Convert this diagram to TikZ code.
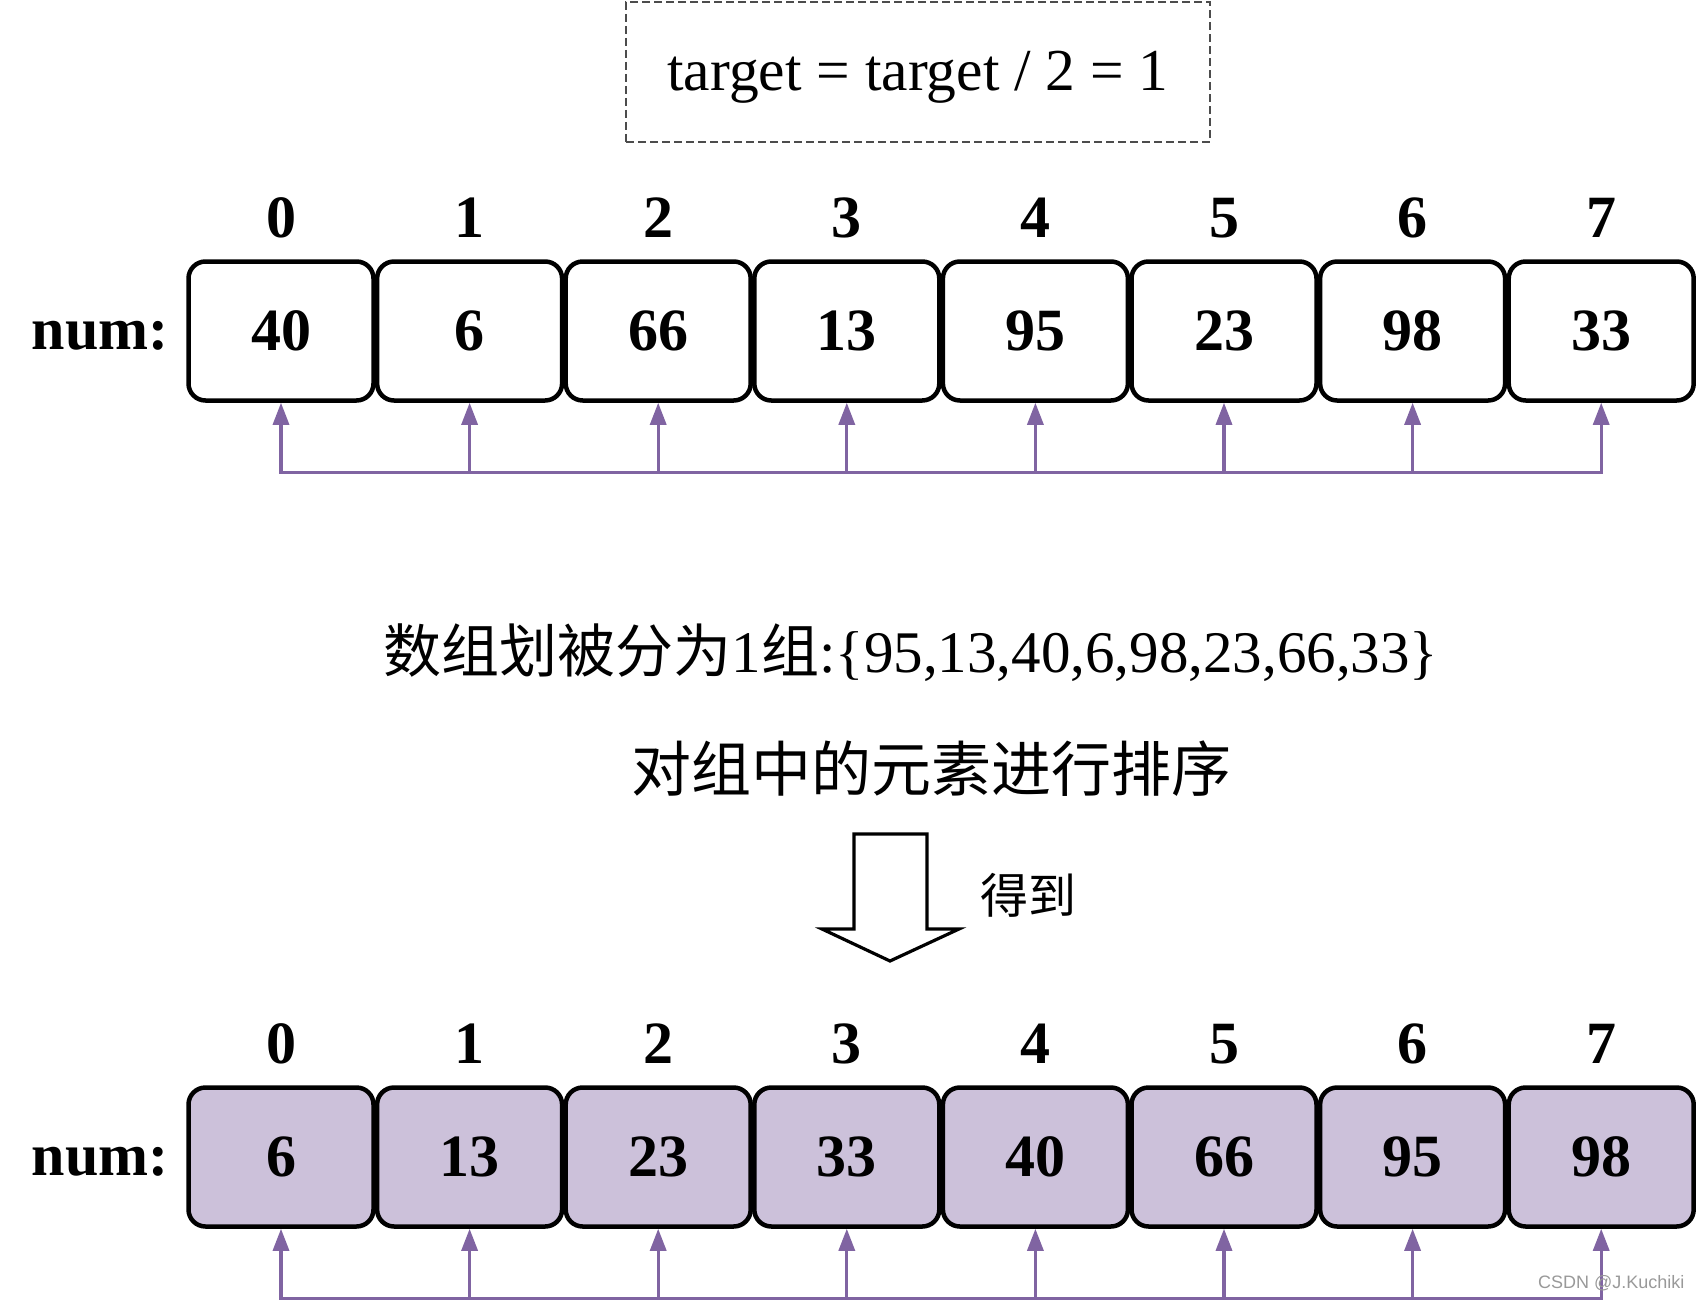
\documentclass[tikz,border=0pt]{standalone}
\usepackage{fontspec}
\setmainfont{Liberation Serif}
\newfontfamily\cjk{Noto Sans CJK SC}
\newfontfamily\wmfont{Liberation Sans}
\usetikzlibrary{arrows.meta}
\definecolor{ptrviolet}{HTML}{8064A2}
\definecolor{cellfill}{HTML}{CCC1DA}
\newcommand\zh[2][62]{{\fontsize{#1}{#1}\selectfont\cjk #2}}
\tikzset{
  cell/.style={draw, line width=4.5pt, rounded corners=17pt, minimum width=185pt,
    minimum height=139pt, inner sep=0pt, font=\fontsize{60}{66}\selectfont\bfseries},
  sorted/.style={cell, fill=cellfill},
  idx/.style={inner sep=0pt, font=\fontsize{60}{66}\selectfont\bfseries},
  ptr/.style={draw=ptrviolet, line width=3.2pt, -{Triangle[length=22pt,width=16pt]}},
  ptrbar/.style={draw=ptrviolet, line width=3.2pt, line cap=rect},
}

\begin{document}
\begin{tikzpicture}[x=1pt,y=-1pt]
  \useasboundingbox (0,0) rectangle (1700,1300);

  \node[draw=black!70, line width=1.5pt, dash pattern=on 8pt off 4pt,
    minimum width=584pt, minimum height=140pt] (tbox) at (918,72) {};
  \node[font=\fontsize{59.5}{64}\selectfont] (target) at (918,77) {target = target / 2 = 1};

  \node[idx] (numa) at (100,336) {num:};
  \foreach \v [count=\i from 0] in {40,6,66,13,95,23,98,33}{
    \node[cell] (a\i) at (281+188.6*\i,331) {\v};
    \node[idx] (ia\i) at (281+188.6*\i,218) {\i};
    \path (a\i.south) ++(0,70) coordinate (ab\i);
    \draw[ptr] (ab\i) -- (a\i.south);
  }
  \draw[ptrbar] (ab0) -- (ab7);

  \node[font=\fontsize{59}{64}\selectfont] (split) at (911,653)
    {\zh[58]{数组划被分为}1\zh[58]{组}:\{95,13,40,6,98,23,66,33\}};
  \node (sortmsg) at (931,769) {\zh[60]{对组中的元素进行排序}};

  \draw[line width=3.2pt] (854,834) -- (927,834) -- (927,929) -- (959,929)
    -- (890,961) -- (822,929) -- (854,929) -- cycle;
  \node (get) at (1028,895) {\zh[48]{得到}};

  \begin{scope}[yshift=-826pt]
    \node[idx] (numb) at (100,336) {num:};
    \foreach \v [count=\i from 0] in {6,13,23,33,40,66,95,98}{
      \node[sorted] (b\i) at (281+188.6*\i,331) {\v};
      \node[idx] (ib\i) at (281+188.6*\i,218) {\i};
      \path (b\i.south) ++(0,70) coordinate (bb\i);
      \draw[ptr] (bb\i) -- (b\i.south);
    }
    \draw[ptrbar] (bb0) -- (bb7);
  \end{scope}

  \node[font=\wmfont\fontsize{18}{20}\selectfont, text=black!40, anchor=east]
    (mark) at (1688,1283) {CSDN @J.Kuchiki};
\end{tikzpicture}
\end{document}
